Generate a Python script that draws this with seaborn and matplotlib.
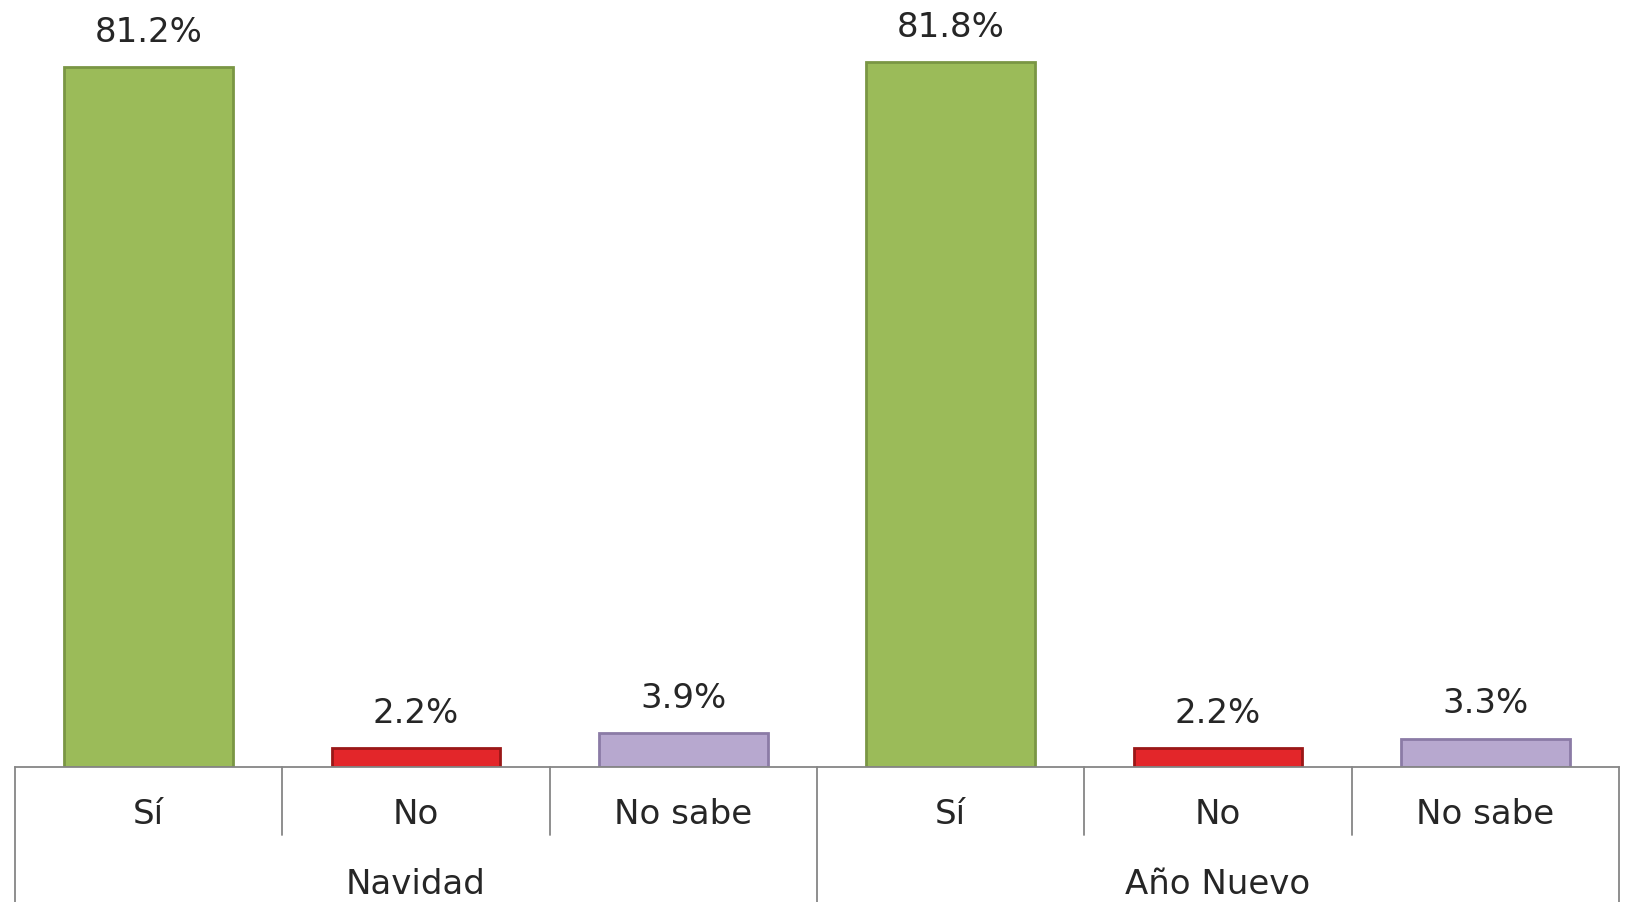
import matplotlib
matplotlib.use("Agg")
import matplotlib.pyplot as plt
import matplotlib.colors as mcolors
import seaborn as sns
import pandas as pd

groups = ["Navidad", "Año Nuevo"]
answers = ["Sí", "No", "No sabe"]
navidad_values = [81.2, 2.2, 3.9]
ano_nuevo_values = [81.8, 2.2, 3.3]
value_labels = ["81.2%", "2.2%", "3.9%", "81.8%", "2.2%", "3.3%"]

colors = {"Sí": "#9BBB59", "No": "#E3262A", "No sabe": "#B7A8CF"}
edges = {"Sí": "#7A9644", "No": "#9A1717", "No sabe": "#8B7BA6"}

rows = []
for g, vals in zip(groups, [navidad_values, ano_nuevo_values]):
    for a, v in zip(answers, vals):
        rows.append({"group": g, "answer": a, "value": v, "key": f"{g}|{a}"})
df = pd.DataFrame(rows)

sns.set_theme(style="white")
plt.rcParams['font.family'] = ['DejaVu Sans']

W, H = 1625, 902
fig = plt.figure(figsize=(W / 100, H / 100), dpi=100)
base_px = 767
ax = fig.add_axes([15 / W, (H - base_px) / H, (1619 - 15) / W, base_px / H])

sns.barplot(data=df, x="key", y="value", hue="answer", palette=colors,
            dodge=False, width=0.63, ax=ax, legend=False, saturation=1)

face_to_edge = {mcolors.to_hex(c): edges[a] for a, c in colors.items()}
for patch in ax.patches:
    fc = mcolors.to_hex(patch.get_facecolor())
    patch.set_edgecolor(face_to_edge.get(fc.lower(), face_to_edge.get(fc, "#666666")))
    patch.set_linewidth(2)

ax.set_xlim(-0.5, 5.5)
ax.set_ylim(0, base_px / 8.62)
ax.set_xlabel("")
ax.set_ylabel("")
ax.set_yticks([])
ax.set_xticks([])
for s in ["top", "right", "left"]:
    ax.spines[s].set_visible(False)
ax.spines["bottom"].set_color("#868686")
ax.spines["bottom"].set_linewidth(1.3)

txt_color = "#262626"
fs = 24.5

for i, (_, r) in enumerate(df.iterrows()):
    ax.annotate(value_labels[i], (i, r["value"]), xytext=(0, 25),
                textcoords="offset points", ha="center", va="center",
                fontsize=fs, color=txt_color)

for i, (_, r) in enumerate(df.iterrows()):
    ax.text(i, -48 / base_px, r["answer"], transform=ax.get_xaxis_transform(),
            ha="center", va="center", fontsize=fs, color=txt_color, clip_on=False)

for b in [0.5, 1.5, 3.5, 4.5]:
    ax.plot([b, b], [0, -68 / base_px], transform=ax.get_xaxis_transform(),
            color="#868686", lw=1.3, clip_on=False)
for b in [-0.5, 2.5, 5.5]:
    ax.plot([b, b], [0, -140 / base_px], transform=ax.get_xaxis_transform(),
            color="#868686", lw=1.3, clip_on=False)

for gi, g in enumerate(groups):
    ax.text(gi * 3 + 1, -117 / base_px, g, transform=ax.get_xaxis_transform(),
            ha="center", va="center", fontsize=fs, color=txt_color, clip_on=False)

fig.savefig("out.png", dpi=100, facecolor="white")
